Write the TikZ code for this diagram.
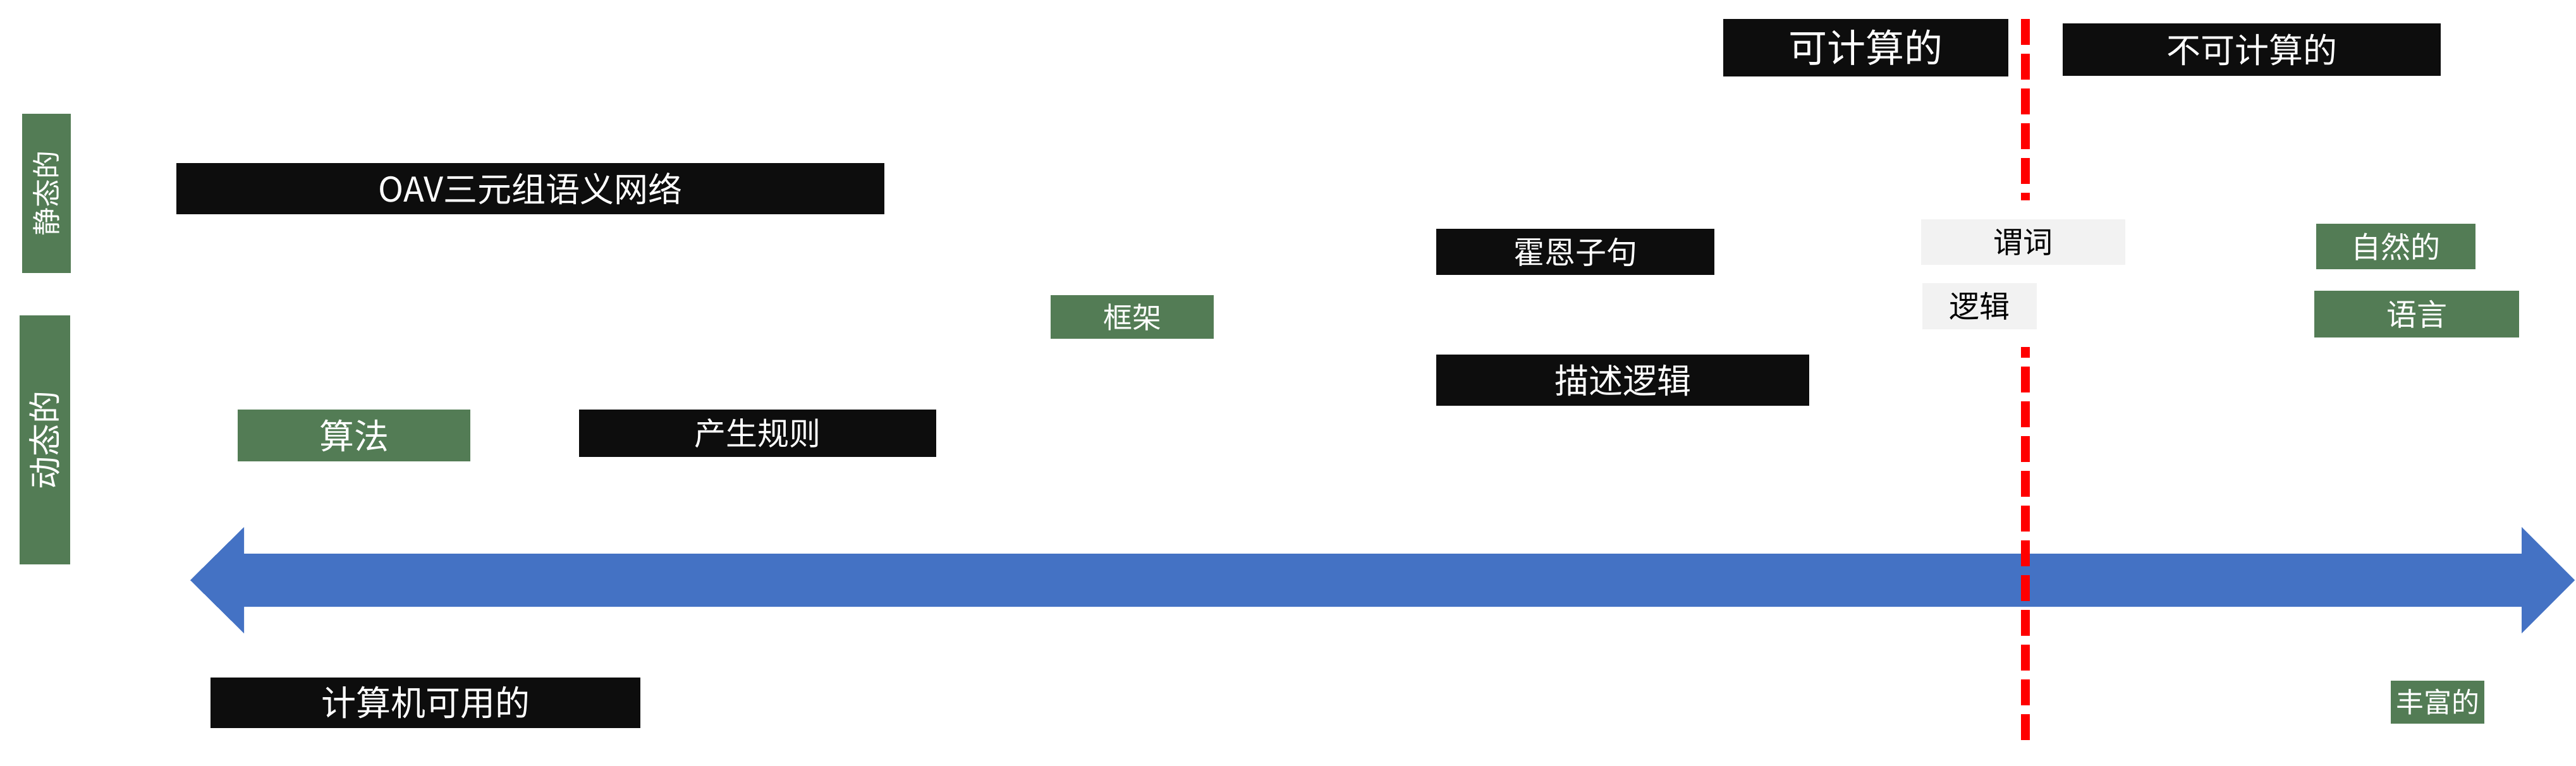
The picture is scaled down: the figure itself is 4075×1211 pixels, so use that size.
\documentclass[tikz,border=0pt]{standalone}
\usepackage{fontspec}
\setmainfont{Noto Sans CJK SC}
\definecolor{gbox}{RGB}{83,124,85}
\definecolor{kbox}{RGB}{13,13,13}
\definecolor{lbox}{RGB}{242,242,242}
\definecolor{abl}{RGB}{68,114,196}
\definecolor{rdash}{RGB}{255,0,0}
\begin{document}
\begin{tikzpicture}[x=1pt,y=-1pt,
  lab/.style={inner sep=0pt, text=white, anchor=center},
  greenbox/.style={lab, fill=gbox},
  blackbox/.style={lab, fill=kbox},
  greybox/.style={lab, fill=lbox, text=black},
  fsz/.style={font=\fontsize{#1}{#1}\selectfont},
  dim/.style 2 args={minimum width=#1, minimum height=#2},
  dividerline/.style={draw=rdash, line width=14pt, dash pattern=on 41pt off 14pt},
  bigarrow/.style={fill=abl}
]
\useasboundingbox (0,0) rectangle (4075,1211);
\fill[white] (0,0) rectangle (4075,1211);

% blue double arrow
\fill[bigarrow] (301,918) -- (386,834) -- (386,876) -- (3989,876) -- (3989,834)
  -- (4073,918) -- (3989,1002) -- (3989,960) -- (386,960) -- (386,1002) -- cycle;

% red dashed divider
\coordinate (rtop) at (3204,30);
\coordinate (rbot) at (3204,1171);
\draw[dividerline] (rtop) -- (rbot);

% white panel behind predicate logic
\node[fill=white, inner sep=0pt, dim={384pt}{232pt}] (panel) at (3204,433) {};

% left axis labels
\node[greenbox, fsz=45, rotate=90, dim={252pt}{77pt}] (static) at (73.5,306) {静态的};
\node[greenbox, fsz=52, rotate=90, dim={394pt}{80pt}] (dynamic) at (71,696) {动态的};

% items
\node[blackbox, fsz=54, dim={1120pt}{81pt}] (oav) at (839,298.5) {OAV三元组语义网络};
\node[greenbox, fsz=55, dim={368pt}{82pt}] (algo) at (560,689) {算法};
\node[blackbox, fsz=50, dim={565pt}{75pt}] (rules) at (1198.5,685.5) {产生规则};
\node[greenbox, fsz=46, dim={258pt}{69pt}] (frame) at (1791,501.5) {框架};
\node[blackbox, fsz=49, dim={440pt}{73pt}] (horn) at (2492,398.5) {霍恩子句};
\node[blackbox, fsz=54, dim={590pt}{81pt}] (dl) at (2567,601.5) {描述逻辑};
\node[blackbox, fsz=61, dim={451pt}{91pt}] (comp) at (2951.5,75.5) {可计算的};
\node[blackbox, fsz=54, dim={598pt}{83pt}] (noncomp) at (3562,78.5) {不可计算的};
\node[greybox, fsz=47, dim={323pt}{72pt}] (pred) at (3200.5,383) {谓词};
\node[greybox, fsz=48, dim={181pt}{73pt}] (logic) at (3131.5,484.5) {逻辑};
\node[greenbox, fsz=47, dim={252pt}{72pt}] (natural) at (3790,390) {自然的};
\node[greenbox, fsz=48, dim={324pt}{74pt}] (lang) at (3823,497) {语言};
\node[blackbox, fsz=55, dim={680pt}{80pt}] (usable) at (673,1112) {计算机可用的};
\node[greenbox, fsz=44, dim={148pt}{68pt}] (rich) at (3856,1111) {丰富的};
\end{tikzpicture}
\end{document}
